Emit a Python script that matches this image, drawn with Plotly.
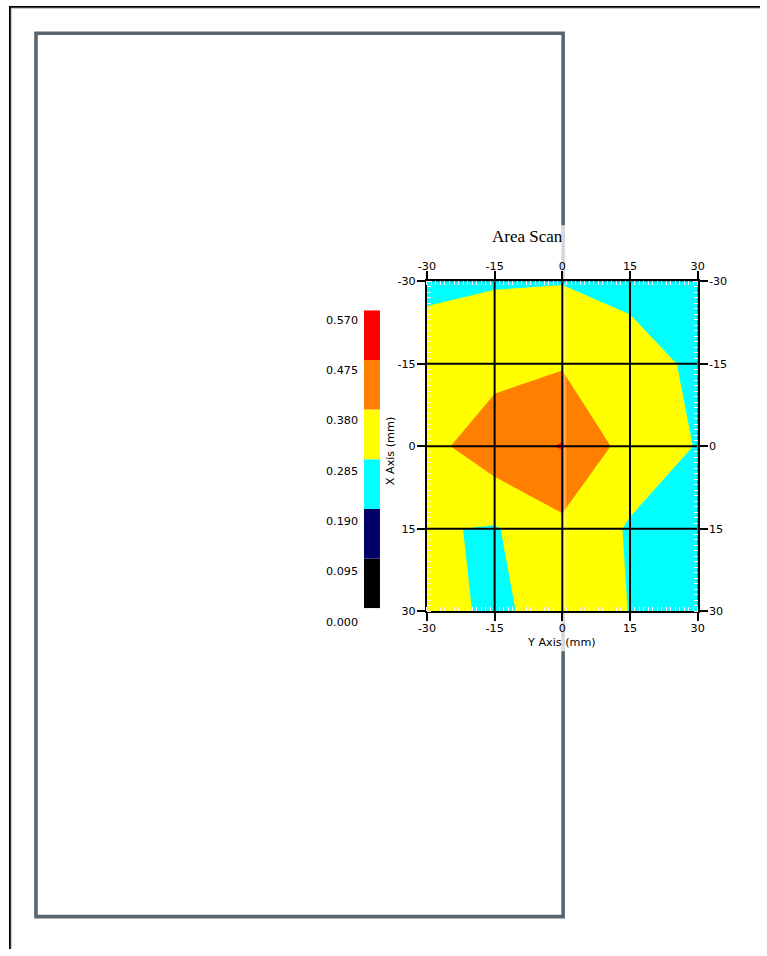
import plotly.graph_objects as go

# ---------------- data ----------------
H_POS = [-30, -15, 0, 15, 30]          # "Y Axis (mm)" (horizontal)
V_POS = [-30, -15, 0, 15, 30]          # "X Axis (mm)" (vertical, top = -30)
Z_ROWS = [
    [0.260, 0.278, 0.281, 0.255, 0.210],
    [0.343, 0.346, 0.371, 0.330, 0.265],
    [0.348, 0.440, 0.480, 0.340, 0.281],
    [0.293, 0.278, 0.357, 0.276, 0.250],
    [0.335, 0.260, 0.341, 0.283, 0.250],
]
TICKS = [-30, -15, 0, 15, 30]
LEVELS = [0.000, 0.095, 0.190, 0.285, 0.380, 0.475, 0.570]
LEVEL_LABELS = ["0.000", "0.095", "0.190", "0.285", "0.380", "0.475", "0.570"]
BAND_COLORS = ["#000000", "#000066", "#00ffff", "#ffff00", "#ff8000", "#ff0000"]
TITLE = "Area Scan"
XTITLE = "Y Axis (mm)"
YTITLE = "X Axis (mm)"

# ---------------- layout helpers ----------------
W, H = 767, 956
# the photographed page appears slightly inset/scaled; place items so that
# they land on the wanted picture pixels
SX, OX = 0.98, 8.7
SY, OY = 0.9867, 5.6
def fx(t):
    return (t - OX) / SX
def fy(t):
    return (t - OY) / SY
def px(t):
    return fx(t) / W
def py(t):
    return 1 - fy(t) / H

SANS = "DejaVu Sans"
SERIF = "Liberation Serif"

# plot area (picture pixels)
PL, PR, PT, PB = 427, 698, 281, 611
# colour bar (picture pixels)
CL, CR, CT, CB = 364, 380, 310, 608

n_bands = len(BAND_COLORS)
contour_scale = [[i / (n_bands - 1), c] for i, c in enumerate(BAND_COLORS)]
step = LEVELS[1] - LEVELS[0]

fig = go.Figure()

fig.add_trace(go.Contour(
    x=H_POS, y=V_POS, z=Z_ROWS,
    colorscale=contour_scale,
    autocontour=False,
    contours=dict(start=LEVELS[1], end=LEVELS[-2], size=step,
                  coloring="fill", showlines=False),
    line=dict(width=0, smoothing=0),
    showscale=False,
    hoverinfo="skip",
))

# invisible trace to activate the mirrored (top/right) axes
fig.add_trace(go.Scatter(
    x=[TICKS[0], TICKS[-1]], y=[TICKS[0], TICKS[-1]],
    xaxis="x2", yaxis="y2", mode="markers",
    marker=dict(opacity=0), hoverinfo="skip", showlegend=False,
))

# colour bar as stacked bars
fig.add_trace(go.Bar(
    x=[0] * n_bands,
    y=[LEVELS[i + 1] - LEVELS[i] for i in range(n_bands)],
    base=LEVELS[:-1],
    marker=dict(color=BAND_COLORS, line=dict(width=0)),
    width=1,
    xaxis="x3", yaxis="y3",
    hoverinfo="skip", showlegend=False,
))

tick_font = dict(family=SANS, size=11.2, color="black")
minor = dict(ticks="inside", ticklen=4, tickwidth=1, tickcolor="#fbf0fb",
             dtick=1, tick0=0, showgrid=False)
alias = {f"\u2212{abs(t)}": f"-{abs(t)}" for t in TICKS if t < 0}
common = dict(
    range=[TICKS[0], TICKS[-1]],
    tickmode="linear", tick0=TICKS[0], dtick=TICKS[1] - TICKS[0],
    ticks="outside", ticklen=8, tickwidth=2, tickcolor="black",
    showline=True, linewidth=2, linecolor="black",
    showgrid=False, zeroline=False, labelalias=alias,
    tickfont=tick_font, minor=minor, fixedrange=True,
)
xcommon = {**common, "ticklabelstandoff": -3}
ycommon = {**common, "range": [TICKS[-1], TICKS[0]], "ticklabelstandoff": -1}

fig.update_layout(
    width=W, height=H, autosize=False,
    margin=dict(l=0, r=0, t=0, b=0),
    paper_bgcolor="white",
    plot_bgcolor="rgba(0,0,0,0)",
    showlegend=False,
    barmode="overlay",
    xaxis=dict(domain=[px(PL), px(PR)], anchor="y", side="bottom", **xcommon),
    xaxis2=dict(domain=[px(PL), px(PR)], anchor="y", side="top",
                overlaying="x", **xcommon),
    yaxis=dict(domain=[py(PB), py(PT)], anchor="x", side="left", **ycommon),
    yaxis2=dict(domain=[py(PB), py(PT)], anchor="x", side="right",
                overlaying="y", **ycommon),
    xaxis3=dict(domain=[px(CL), px(CR)], anchor="y3", range=[-0.5, 0.5],
                visible=False, fixedrange=True),
    yaxis3=dict(domain=[py(CB), py(CT)], anchor="x3",
                range=[LEVELS[0], LEVELS[-1]], visible=False, fixedrange=True),
)

shapes = []
# page border (top and left) at the very edge of the figure
edge = 0.9 / W, 1 - 0.9 / H
shapes.append(dict(type="line", xref="paper", yref="paper",
                   x0=0, x1=1, y0=1 - 2.3 / H, y1=1 - 2.3 / H,
                   line=dict(color="#b8b8b8", width=1), layer="below"))
shapes.append(dict(type="line", xref="paper", yref="paper",
                   x0=2.3 / W, x1=2.3 / W, y0=1, y1=0,
                   line=dict(color="#b8b8b8", width=1), layer="below"))
shapes.append(dict(type="line", xref="paper", yref="paper",
                   x0=0, x1=1, y0=edge[1], y1=edge[1],
                   line=dict(color="black", width=1.8), layer="below"))
shapes.append(dict(type="line", xref="paper", yref="paper",
                   x0=edge[0], x1=edge[0], y0=1, y1=0,
                   line=dict(color="black", width=1.8), layer="below"))
# grey outline rectangle
shapes.append(dict(type="rect", xref="paper", yref="paper",
                   x0=px(35.7), x1=px(563.3), y0=py(32.8), y1=py(916.5),
                   line=dict(color="#58666f", width=3.6), layer="below"))
# translucent white panel behind the chart
shapes.append(dict(type="rect", xref="paper", yref="paper",
                   x0=px(315), x1=px(725), y0=py(225), y1=py(651),
                   fillcolor="white", opacity=0.75, line=dict(width=0),
                   layer="below"))
# faint trace of the outline over the contour
shapes.append(dict(type="line", xref="paper", yref="paper",
                   x0=px(565), x1=px(565), y0=py(PT + 2), y1=py(PB - 2),
                   line=dict(color="white", width=3), opacity=0.3,
                   layer="above"))
# black grid lines on top of the fills
for t in TICKS[1:-1]:
    shapes.append(dict(type="line", xref="x", yref="y",
                       x0=t, x1=t, y0=TICKS[0], y1=TICKS[-1],
                       line=dict(color="black", width=2), layer="above"))
    shapes.append(dict(type="line", xref="x", yref="y",
                       x0=TICKS[0], x1=TICKS[-1], y0=t, y1=t,
                       line=dict(color="black", width=2), layer="above"))
fig.update_layout(shapes=shapes)

annotations = []
annotations.append(dict(text=TITLE, xref="paper", yref="paper",
                        x=px(528), y=py(236), showarrow=False,
                        xanchor="center", yanchor="middle",
                        font=dict(family=SERIF, size=17, color="black")))
annotations.append(dict(text=XTITLE, xref="paper", yref="paper",
                        x=px(562), y=py(642), showarrow=False,
                        xanchor="center", yanchor="middle",
                        font=dict(family=SANS, size=11.2, color="black")))
annotations.append(dict(text=YTITLE, xref="paper", yref="paper",
                        x=px(390), y=py(450), showarrow=False, textangle=-90,
                        xanchor="center", yanchor="middle",
                        font=dict(family=SANS, size=11.2, color="black")))
# colour bar labels (drawn slightly below each level boundary)
lab_top, lab_bot = 320, 622
for lv, lab in zip(LEVELS, LEVEL_LABELS):
    frac = (LEVELS[-1] - lv) / (LEVELS[-1] - LEVELS[0])
    ypix = lab_top + frac * (lab_bot - lab_top)
    annotations.append(dict(text=lab, xref="paper", yref="paper",
                            x=px(360), y=py(ypix), showarrow=False,
                            xanchor="right", yanchor="middle",
                            font=dict(family=SANS, size=11.2, color="black")))
fig.update_layout(annotations=annotations)

PAGE_JS = (
    "document.documentElement.style.margin='0';"
    "document.body.style.margin='0';"
    "document.body.style.overflow='hidden';"
)

fig.write_html("out.html",
               config={"displayModeBar": False, "staticPlot": True,
                       "responsive": False},
               post_script=PAGE_JS)
